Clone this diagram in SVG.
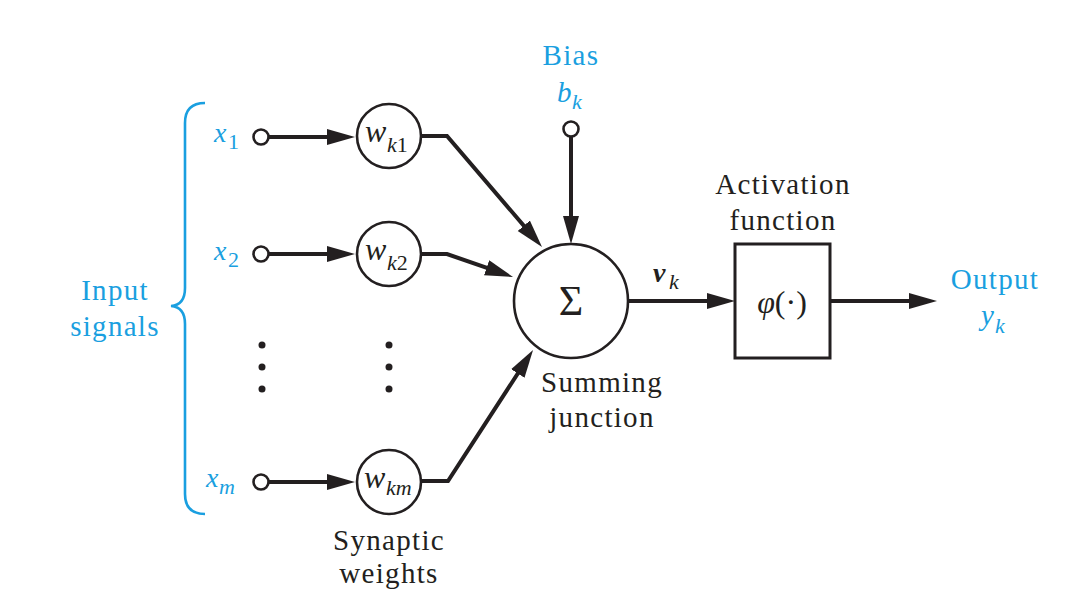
<svg xmlns="http://www.w3.org/2000/svg" width="1073" height="605" viewBox="0 0 1073 605">
<defs>
<marker id="ah" markerUnits="userSpaceOnUse" markerWidth="30" markerHeight="18" refX="18" refY="8" orient="auto">
<path d="M0,0 L28,8 L0,16 Z" fill="#231f20"/>
</marker>
<style>
text{font-family:"Liberation Serif","Times New Roman",serif;fill:#231f20}
.lbl{font-size:29px;letter-spacing:1.3px}
.math{font-style:italic}
.sub{font-style:italic;font-size:22px}
.up{font-style:normal}
text.blue{fill:#1a9fe0}
.node{fill:#fff;stroke:#231f20;stroke-width:2.6}
.conn{fill:none;stroke:#231f20;stroke-width:4;stroke-linejoin:miter}
.dot{fill:#231f20}
</style>
</defs>
<rect width="1073" height="605" fill="#fff"/>

<g id="brace">
<path d="M205,103 Q185,103 185,123 L185,288 Q185,305 171,306 Q185,307 185,324 L185,494 Q185,514 205,514" fill="none" stroke="#1a9fe0" stroke-width="2.6"/>
<text class="lbl blue" x="115" y="300" text-anchor="middle">Input</text>
<text class="lbl blue" x="115" y="336" text-anchor="middle">signals</text>
</g>

<g id="connectors">
<line class="conn" x1="269" y1="137" x2="345" y2="137" marker-end="url(#ah)"/>
<line class="conn" x1="269" y1="254" x2="345" y2="254" marker-end="url(#ah)"/>
<line class="conn" x1="269" y1="482" x2="345" y2="482" marker-end="url(#ah)"/>
<polyline class="conn" points="421,136 447,136 535.5,239.4" marker-end="url(#ah)"/>
<polyline class="conn" points="421,254 447,254 503.6,273.7" marker-end="url(#ah)"/>
<polyline class="conn" points="421,481 448,481 527.6,358.4" marker-end="url(#ah)"/>
<line class="conn" x1="571" y1="137" x2="571" y2="234" marker-end="url(#ah)"/>
<line class="conn" x1="628" y1="301" x2="725" y2="301" marker-end="url(#ah)"/>
<line class="conn" x1="830" y1="301" x2="927" y2="301" marker-end="url(#ah)"/>
</g>

<g id="input-x1">
<circle class="node" cx="261" cy="137" r="7.5"/>
<text class="math blue" x="214" y="142" font-size="28">x</text>
<text class="sub up blue" x="228" y="149">1</text>
</g>
<g id="input-x2">
<circle class="node" cx="261" cy="254" r="7.5"/>
<text class="math blue" x="214" y="260" font-size="28">x</text>
<text class="sub up blue" x="228" y="267">2</text>
</g>
<g id="input-xm">
<circle class="node" cx="261" cy="482" r="7.5"/>
<text class="math blue" x="206" y="487" font-size="28">x</text>
<text class="sub blue" x="219" y="494">m</text>
</g>

<g id="dots">
<circle class="dot" cx="262" cy="345" r="3.5"/>
<circle class="dot" cx="262" cy="367" r="3.5"/>
<circle class="dot" cx="262" cy="389" r="3.5"/>
<circle class="dot" cx="389" cy="345" r="3.5"/>
<circle class="dot" cx="389" cy="367" r="3.5"/>
<circle class="dot" cx="389" cy="389" r="3.5"/>
</g>

<g id="weight-wk1">
<circle class="node" cx="389" cy="136" r="32"/>
<text class="math" x="365" y="142" font-size="32">w</text>
<text class="sub" x="387" y="152">k<tspan class="up">1</tspan></text>
</g>
<g id="weight-wk2">
<circle class="node" cx="389" cy="254" r="32"/>
<text class="math" x="365" y="260" font-size="32">w</text>
<text class="sub" x="387" y="270">k<tspan class="up">2</tspan></text>
</g>
<g id="weight-wkm">
<circle class="node" cx="389" cy="482" r="32"/>
<text class="math" x="364" y="488" font-size="32">w</text>
<text class="sub" x="386" y="495">km</text>
<text class="lbl" x="389" y="550" text-anchor="middle">Synaptic</text>
<text class="lbl" x="389" y="583" text-anchor="middle">weights</text>
</g>

<g id="bias">
<text class="lbl blue" x="571" y="65" text-anchor="middle">Bias</text>
<text class="math blue" x="557" y="102" font-size="29">b</text>
<text class="sub blue" x="572" y="109">k</text>
<circle class="node" cx="571" cy="129" r="7.5"/>
</g>

<g id="summing-junction">
<circle class="node" cx="571" cy="301" r="57"/>
<text x="571" y="315" text-anchor="middle" font-size="42">Σ</text>
<text class="lbl" x="602" y="392" text-anchor="middle">Summing</text>
<text class="lbl" x="602" y="427" text-anchor="middle">junction</text>
</g>

<g id="vk-label">
<text class="math" x="653" y="282" font-size="28" font-weight="bold">v</text>
<text class="sub" x="669" y="289">k</text>
</g>

<g id="activation">
<text class="lbl" x="783" y="194" text-anchor="middle">Activation</text>
<text class="lbl" x="783" y="230" text-anchor="middle">function</text>
<rect x="735" y="244" width="95" height="114" fill="#fff" stroke="#231f20" stroke-width="3"/>
<text x="782" y="313" text-anchor="middle" font-size="32"><tspan class="math">φ</tspan>(·)</text>
</g>

<g id="output">
<text class="lbl blue" x="995" y="289" text-anchor="middle">Output</text>
<text class="math blue" x="981" y="325" font-size="29">y</text>
<text class="sub blue" x="995" y="333">k</text>
</g>
</svg>
